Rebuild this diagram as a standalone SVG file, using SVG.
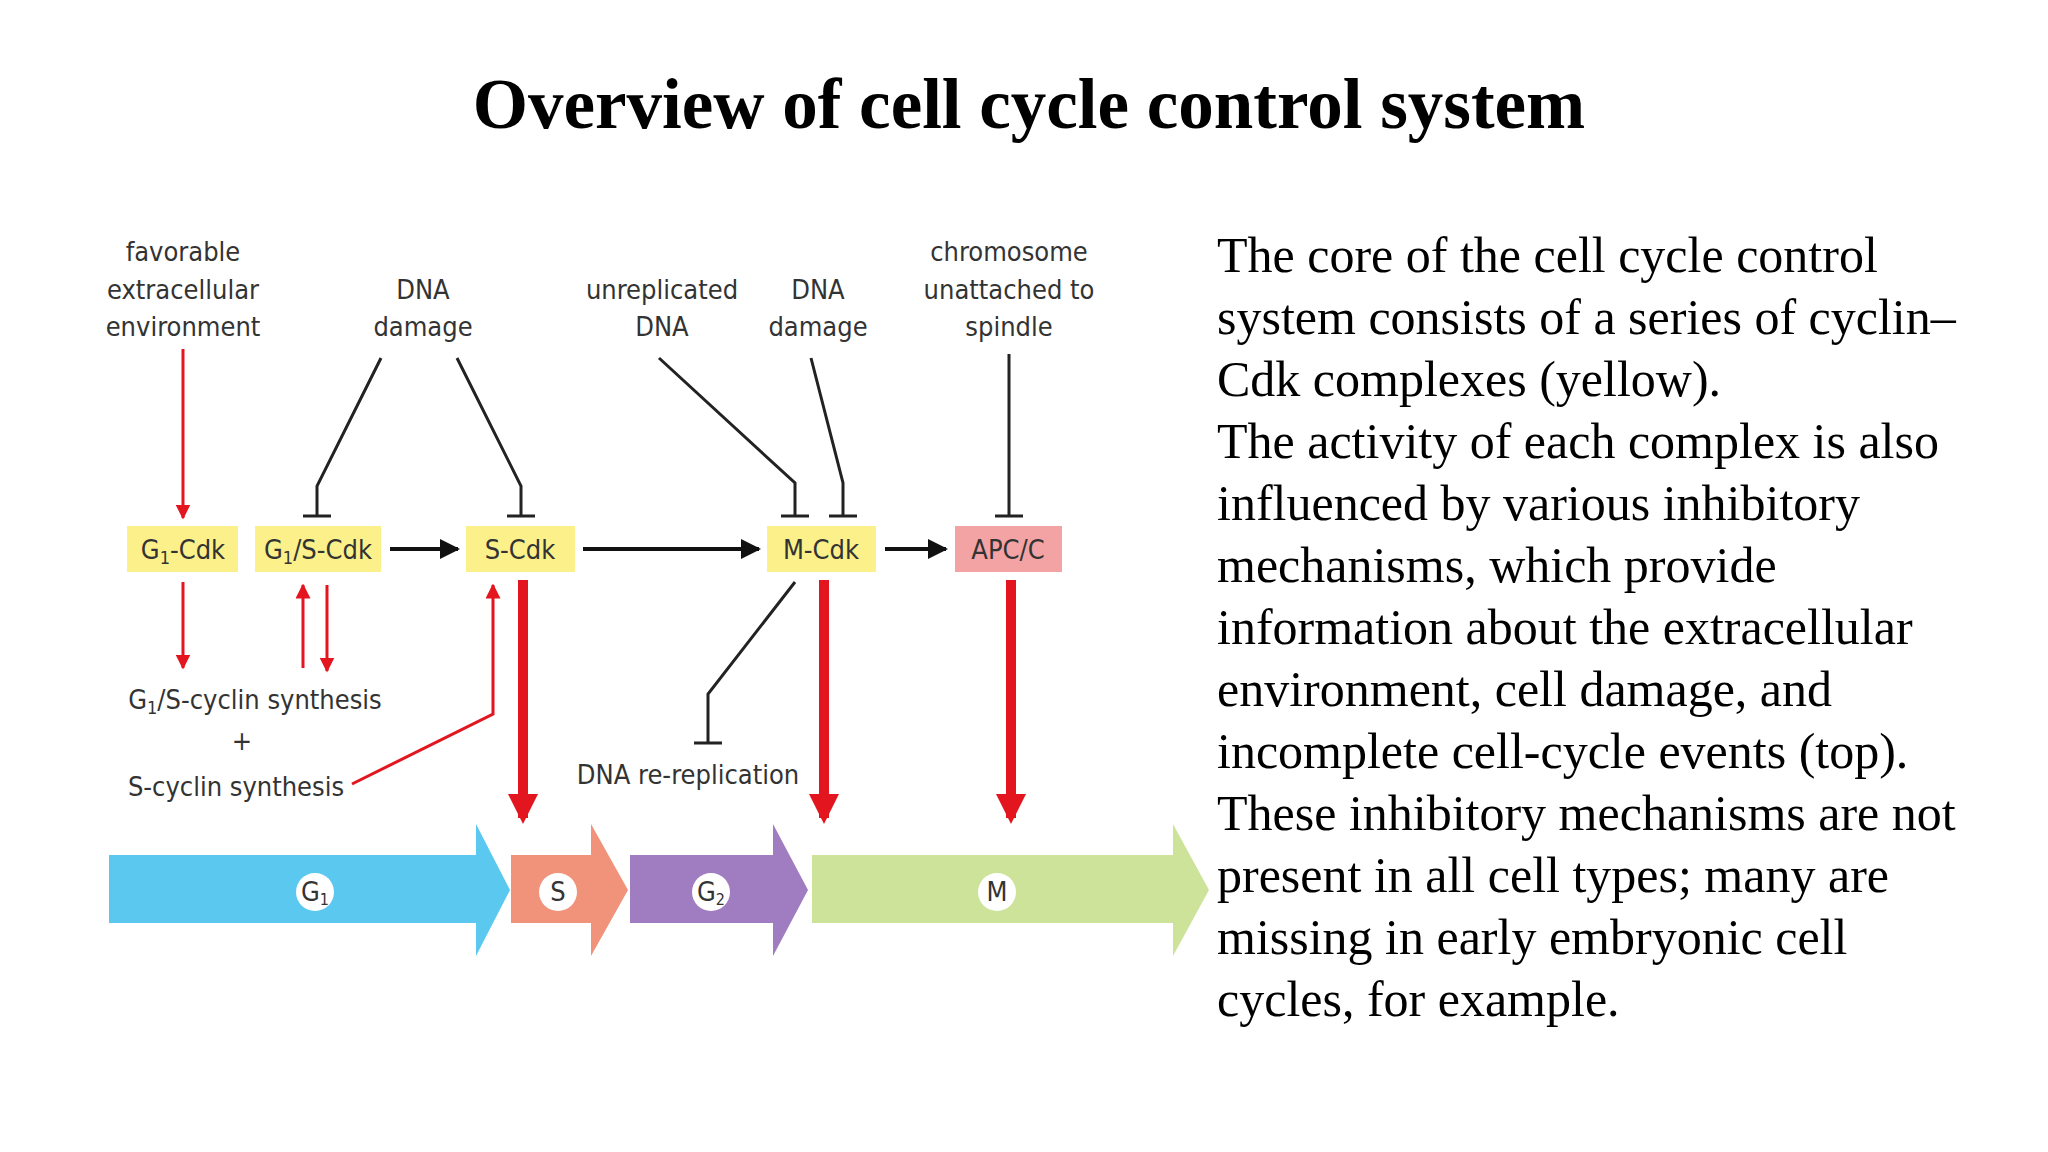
<svg xmlns="http://www.w3.org/2000/svg" width="2048" height="1152" viewBox="0 0 2048 1152">
<defs>
<marker id="ab" viewBox="0 0 10 10" refX="9" refY="5" markerWidth="5" markerHeight="5" orient="auto"><path d="M0,0L10,5L0,10z" fill="#111"/></marker>
<marker id="ar" viewBox="0 0 10 10" refX="9" refY="5" markerWidth="5" markerHeight="5" orient="auto"><path d="M0,0L10,5L0,10z" fill="#e3151f"/></marker>
<marker id="arb" viewBox="0 0 10 10" refX="8" refY="5" markerWidth="3" markerHeight="3" orient="auto"><path d="M0,0L10,5L0,10z" fill="#e3151f"/></marker>
</defs>
<style>
.t{font-family:"DejaVu Sans Condensed","Liberation Sans Narrow","Liberation Sans",sans-serif;font-size:27px;fill:#333;text-anchor:middle}
.b{font-family:"Liberation Serif",serif;font-size:50px;fill:#000}
.inh{fill:none;stroke:#222;stroke-width:3}
.thin{stroke:#e3151f;stroke-width:3;fill:none}
.thick{stroke:#e3151f;stroke-width:10;fill:none}
.box{fill:#fbf08a}
</style>
<rect width="2048" height="1152" fill="#fff"/>
<text x="1029" y="128" font-family="Liberation Serif,serif" font-weight="bold" font-size="71" text-anchor="middle">Overview of cell cycle control system</text>
<g transform="translate(-2,-5)">
<g id="labels">
<text class="t" x="185" y="266">favorable</text><text class="t" x="185" y="304">extracellular</text><text class="t" x="185" y="341">environment</text>
<text class="t" x="425" y="304">DNA</text><text class="t" x="425" y="341">damage</text>
<text class="t" x="664" y="304">unreplicated</text><text class="t" x="664" y="341">DNA</text>
<text class="t" x="820" y="304">DNA</text><text class="t" x="820" y="341">damage</text>
<text class="t" x="1011" y="266">chromosome</text><text class="t" x="1011" y="304">unattached to</text><text class="t" x="1011" y="341">spindle</text>
<text class="t" x="257" y="714">G<tspan font-size="18" dy="5">1</tspan><tspan dy="-5">/S-cyclin synthesis</tspan></text>
<text class="t" x="244" y="755">+</text>
<text class="t" x="238" y="801">S-cyclin synthesis</text>
<text class="t" x="690" y="789">DNA re-replication</text>
</g>
<g id="g1cdk"><rect class="box" x="129" y="531" width="111" height="46"/><text class="t" x="185" y="564">G<tspan font-size="18" dy="5">1</tspan><tspan dy="-5">-Cdk</tspan></text></g>
<g id="g1scdk"><rect class="box" x="257" y="531" width="126" height="46"/><text class="t" x="320" y="564">G<tspan font-size="18" dy="5">1</tspan><tspan dy="-5">/S-Cdk</tspan></text></g>
<g id="scdk"><rect class="box" x="468" y="531" width="109" height="46"/><text class="t" x="522" y="564">S-Cdk</text></g>
<g id="mcdk"><rect class="box" x="769" y="531" width="109" height="46"/><text class="t" x="823" y="564">M-Cdk</text></g>
<g id="apcc"><rect fill="#f4a3a5" x="957" y="531" width="107" height="46"/><text class="t" x="1010" y="564">APC/C</text></g>
<g id="connectors">
<line x1="392" y1="554" x2="460" y2="554" stroke="#111" stroke-width="4" marker-end="url(#ab)"/>
<line x1="585" y1="554" x2="761" y2="554" stroke="#111" stroke-width="4" marker-end="url(#ab)"/>
<line x1="887" y1="554" x2="948" y2="554" stroke="#111" stroke-width="4" marker-end="url(#ab)"/>
<line class="thin" x1="185" y1="354" x2="185" y2="523" marker-end="url(#ar)"/>
<line class="thin" x1="185" y1="587" x2="185" y2="673" marker-end="url(#ar)"/>
<line class="thin" x1="305" y1="673" x2="305" y2="590" marker-end="url(#ar)"/>
<line class="thin" x1="329" y1="590" x2="329" y2="676" marker-end="url(#ar)"/>
<polyline class="thin" points="354,789 495,719 495,590" marker-end="url(#ar)"/>
<path class="inh" d="M383,363L319,491V521M305,521H333"/>
<path class="inh" d="M459,363L523,491V521M509,521H537"/>
<path class="inh" d="M661,363L797,488V521M783,521H811"/>
<path class="inh" d="M813,363L845,488V521M831,521H859"/>
<path class="inh" d="M1011,359V521M997,521H1025"/>
<path class="inh" d="M797,587L710,699V748M696,748H724"/>
<line class="thick" x1="525" y1="585" x2="525" y2="823" marker-end="url(#arb)"/>
<line class="thick" x1="826" y1="585" x2="826" y2="823" marker-end="url(#arb)"/>
<line class="thick" x1="1013" y1="585" x2="1013" y2="823" marker-end="url(#arb)"/>
</g>
<g id="phases">
<path fill="#5bc8f0" d="M111,860H478V829L512,895L478,961V928H111z"/>
<path fill="#f0937a" d="M513,860H593V829L630,895L593,961V928H513z"/>
<path fill="#a07cc0" d="M632,860H775V829L810,895L775,961V928H632z"/>
<path fill="#cde39a" d="M814,860H1175V829L1211,895L1175,961V928H814z"/>
<circle cx="317" cy="897" r="19" fill="#fff"/><text class="t" x="317" y="906" font-size="24">G<tspan font-size="16" dy="4">1</tspan></text>
<circle cx="560" cy="897" r="19" fill="#fff"/><text class="t" x="560" y="906" font-size="24">S</text>
<circle cx="713" cy="897" r="19" fill="#fff"/><text class="t" x="713" y="906" font-size="24">G<tspan font-size="16" dy="4">2</tspan></text>
<circle cx="999" cy="897" r="19" fill="#fff"/><text class="t" x="999" y="906" font-size="24">M</text>
</g>
</g>
<g id="description">
<text class="b" x="1217" y="272">The core of the cell cycle control</text>
<text class="b" x="1217" y="334">system consists of a series of cyclin–</text>
<text class="b" x="1217" y="396">Cdk complexes (yellow).</text>
<text class="b" x="1217" y="458">The activity of each complex is also</text>
<text class="b" x="1217" y="520">influenced by various inhibitory</text>
<text class="b" x="1217" y="582">mechanisms, which provide</text>
<text class="b" x="1217" y="644">information about the extracellular</text>
<text class="b" x="1217" y="706">environment, cell damage, and</text>
<text class="b" x="1217" y="768">incomplete cell-cycle events (top).</text>
<text class="b" x="1217" y="830">These inhibitory mechanisms are not</text>
<text class="b" x="1217" y="892">present in all cell types; many are</text>
<text class="b" x="1217" y="954">missing in early embryonic cell</text>
<text class="b" x="1217" y="1016">cycles, for example.</text>
</g>
</svg>
